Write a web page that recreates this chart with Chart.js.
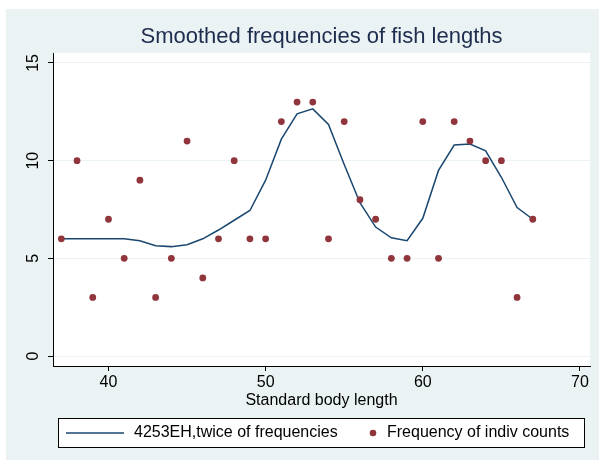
<!DOCTYPE html>
<html lang="en">
<head>
    <meta charset="UTF-8">
    <title>Smoothed frequencies of fish lengths</title>
    <script src="https://cdn.jsdelivr.net/npm/chart.js@4"></script>
    <style>
        body { margin: 0; background: #fff; }
        canvas { display: block; }
    </style>
</head>
<body>
    <canvas id="fishChart" width="599" height="461"></canvas>

    <script>
        // data
        const lengths = [37, 38, 39, 40, 41, 42, 43, 44, 45, 46, 47, 48, 49, 50, 51, 52,
                         53, 54, 55, 56, 57, 58, 59, 60, 61, 62, 63, 64, 65, 66, 67];
        const counts = [6, 10, 3, 7, 5, 9, 3, 5, 11, 4, 6, 10, 6, 6, 12, 13,
                        13, 6, 12, 8, 7, 5, 5, 12, 5, 12, 11, 10, 10, 3, 7];
        const smoothed = [6.0, 6.0, 6.0, 6.0, 6.0, 5.9, 5.65, 5.6, 5.7, 6.0, 6.45, 6.95, 7.45, 9.0, 11.1, 12.4,
                          12.65, 11.85, 9.8, 7.85, 6.6, 6.05, 5.9, 7.05, 9.5, 10.8, 10.85, 10.5, 9.15, 7.6, 7.0];
        const xTicks = [40, 50, 60, 70];
        const yTicks = [0, 5, 10, 15];

        const titleText = 'Smoothed frequencies of fish lengths';
        const lineLabel = '4253EH,twice of frequencies';
        const dotLabel = 'Frequency of indiv counts';

        const FONT = '"Liberation Sans", Arial, Helvetica, sans-serif';
        const LINE_COLOR = '#1a476f';
        const DOT_COLOR = '#90353b';
        const BG = '#eaf2f3';

        // backgrounds, title, rotated y labels and the boxed legend
        const stataLook = {
            id: 'stataLook',
            beforeDraw(chart) {
                const { ctx, chartArea: a } = chart;
                ctx.save();
                ctx.fillStyle = '#fff';
                ctx.fillRect(0, 0, chart.width, chart.height);
                ctx.fillStyle = BG;
                ctx.fillRect(6, 9, chart.width - 6, chart.height - 10);
                ctx.fillStyle = '#fff';
                ctx.fillRect(a.left, a.top, a.right - a.left, a.bottom - a.top);
                ctx.restore();
            },
            afterDraw(chart) {
                const { ctx, chartArea: a } = chart;
                const y = chart.scales.y;
                ctx.save();

                // title
                ctx.fillStyle = '#1e2c4e';
                ctx.font = '22px ' + FONT;
                ctx.textAlign = 'center';
                ctx.textBaseline = 'middle';
                ctx.fillText(titleText, (a.left + a.right) / 2, 37);

                // y tick labels, turned 90 degrees
                ctx.fillStyle = '#000';
                ctx.font = '16px ' + FONT;
                yTicks.forEach(v => {
                    ctx.save();
                    ctx.translate(34, y.getPixelForValue(v));
                    ctx.rotate(-Math.PI / 2);
                    ctx.fillText(String(v), 0, 0);
                    ctx.restore();
                });

                // legend
                ctx.fillStyle = '#fff';
                ctx.fillRect(58.5, 418.5, 526, 29);
                ctx.strokeStyle = '#000';
                ctx.lineWidth = 1;
                ctx.strokeRect(58.5, 418.5, 526, 29);

                ctx.strokeStyle = LINE_COLOR;
                ctx.lineWidth = 1.5;
                ctx.beginPath();
                ctx.moveTo(66, 433);
                ctx.lineTo(124, 433);
                ctx.stroke();

                ctx.fillStyle = DOT_COLOR;
                ctx.beginPath();
                ctx.arc(373, 433, 3.3, 0, Math.PI * 2);
                ctx.fill();

                ctx.fillStyle = '#000';
                ctx.textAlign = 'left';
                ctx.fillText(lineLabel, 134, 433);
                ctx.fillText(dotLabel, 387, 433);
                ctx.restore();
            }
        };

        const ctx = document.getElementById('fishChart').getContext('2d');
        new Chart(ctx, {
            type: 'scatter',
            data: {
                datasets: [
                    {
                        type: 'line',
                        label: lineLabel,
                        data: lengths.map((x, i) => ({ x: x, y: smoothed[i] })),
                        borderColor: LINE_COLOR,
                        borderWidth: 1.5,
                        pointRadius: 0,
                        tension: 0,
                        fill: false,
                        order: 2
                    },
                    {
                        label: dotLabel,
                        data: lengths.map((x, i) => ({ x: x, y: counts[i] })),
                        backgroundColor: DOT_COLOR,
                        borderWidth: 0,
                        pointRadius: 3.4,
                        order: 1
                    }
                ]
            },
            options: {
                responsive: false,
                animation: false,
                layout: { padding: { top: 53, right: 9, bottom: 0, left: 0 } },
                plugins: {
                    legend: { display: false },
                    title: { display: false },
                    tooltip: { enabled: false }
                },
                scales: {
                    x: {
                        type: 'linear',
                        min: 36.47,
                        max: 70.64,
                        afterBuildTicks: s => { s.ticks = xTicks.map(v => ({ value: v })); },
                        afterFit: s => { s.height = 95; },
                        grid: { drawOnChartArea: false, tickLength: 5, tickColor: '#000' },
                        border: { color: '#000', width: 1 },
                        ticks: { color: '#000', font: { family: FONT, size: 16 }, padding: 2, maxRotation: 0 },
                        title: {
                            display: true,
                            text: 'Standard body length',
                            color: '#000',
                            font: { family: FONT, size: 16 },
                            padding: { top: 0, bottom: 51 }
                        }
                    },
                    y: {
                        min: -0.51,
                        max: 15.51,
                        afterBuildTicks: s => { s.ticks = yTicks.map(v => ({ value: v })); },
                        afterFit: s => { s.width = 53; },
                        grid: { color: BG, lineWidth: 1, tickLength: 5, tickColor: '#000' },
                        border: { color: '#000', width: 1 },
                        ticks: { display: false }
                    }
                }
            },
            plugins: [stataLook]
        });
    </script>
</body>
</html>
